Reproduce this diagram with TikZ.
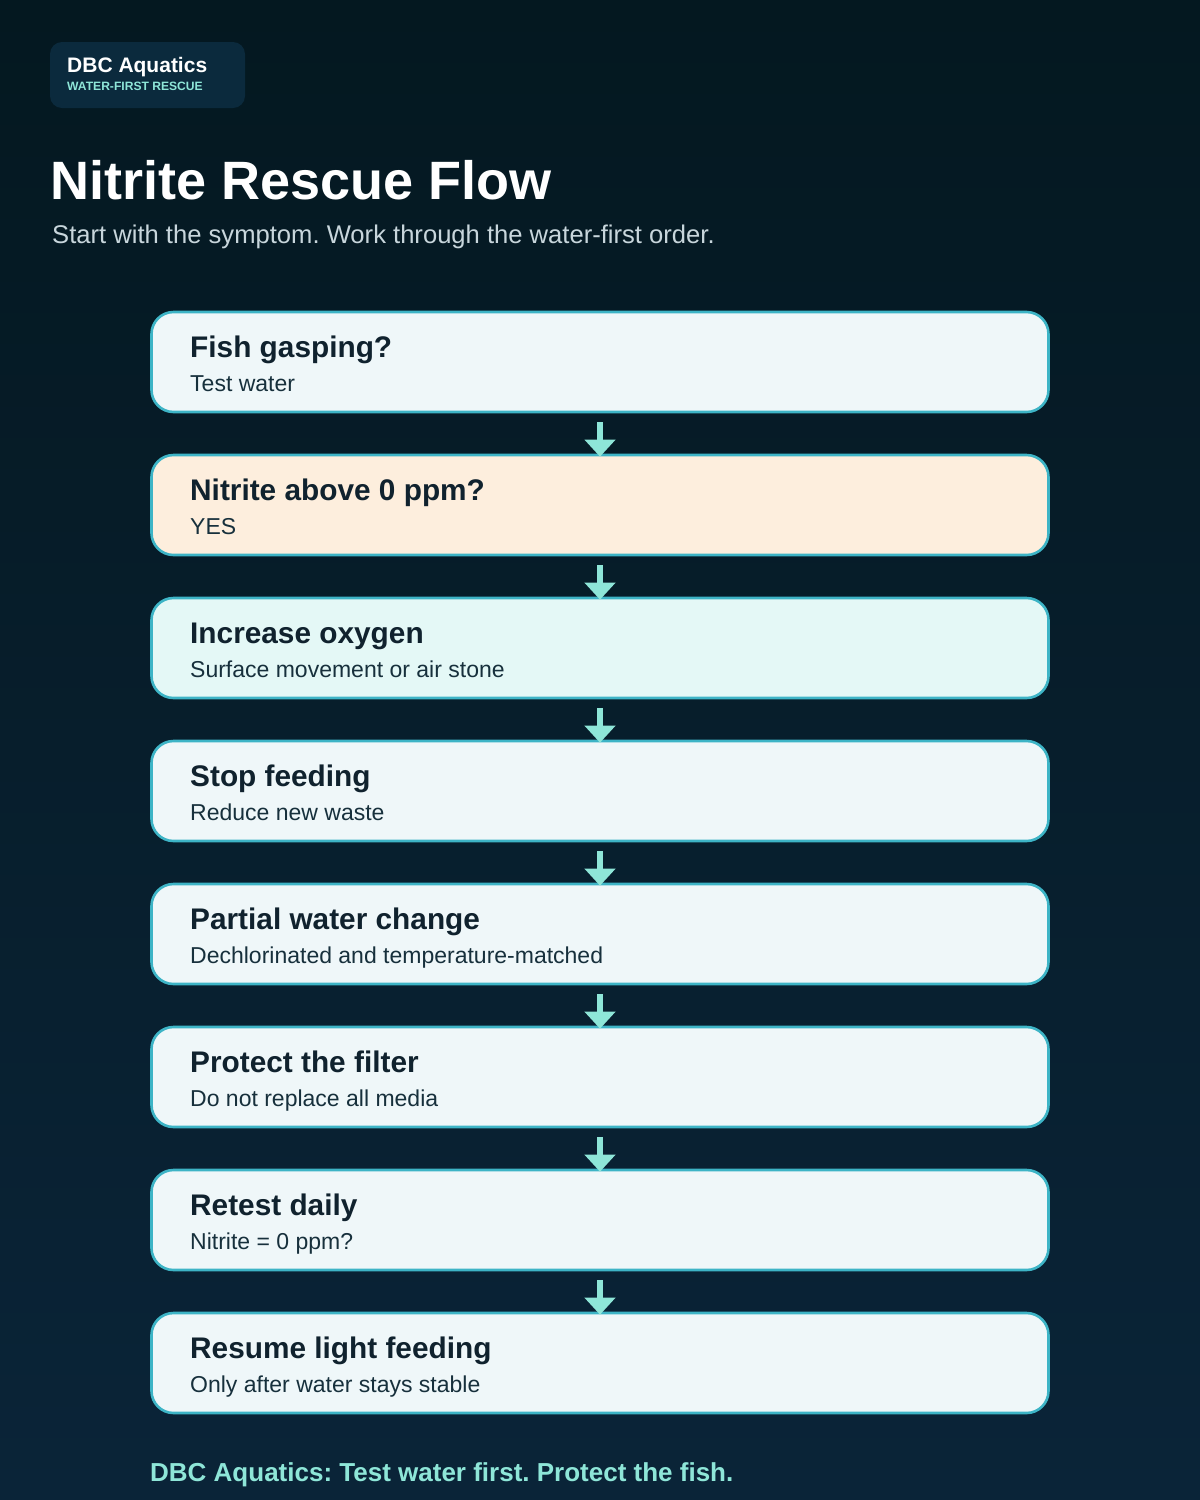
\documentclass[tikz,border=0pt]{standalone}
\usepackage{fontspec}
\setmainfont{Liberation Sans}
\usetikzlibrary{arrows.meta}
\frenchspacing
\definecolor{bgtop}{HTML}{041820}
\definecolor{bgbot}{HTML}{0A2438}
\definecolor{badgefill}{HTML}{0B2A3D}
\definecolor{mint}{HTML}{8EE6D8}
\definecolor{rim}{HTML}{3DB4C6}
\definecolor{palefill}{HTML}{EFF7F9}
\definecolor{peachfill}{HTML}{FDEEDD}
\definecolor{aquafill}{HTML}{E4F8F6}
\definecolor{inkdark}{HTML}{10222E}
\definecolor{inksub}{HTML}{17303C}
\definecolor{greytext}{HTML}{C8D6DC}
\tikzset{stepbox/.style={rounded corners=22pt,draw=rim,line width=2.6pt,
           minimum width=897pt,minimum height=100pt,inner sep=0pt,fill=palefill},
  boxtitle/.style={anchor=base west,inner sep=0pt,text=inkdark,
           font=\fontsize{29.8}{34}\selectfont\bfseries},
  boxsub/.style={anchor=base west,inner sep=0pt,text=inksub,
           font=\fontsize{23}{27}\selectfont},
  flow/.style={draw=mint,line width=6pt,shorten <=9pt,shorten >=-3pt,
           -{Triangle[width=30pt,length=17pt]}}
         }
\begin{document}
\begin{tikzpicture}[x=1pt,y=-1pt]
  \shade[top color=bgtop,bottom color=bgbot] (0,0) rectangle (1200,1500);
  \useasboundingbox (0,0) rectangle (1200,1500);
  % badge
  \node[fill=badgefill,rounded corners=12pt,minimum width=195pt,minimum height=66pt,
        inner sep=0pt] (badge) at (147.5,75) {};
  \node[anchor=base west,inner sep=0pt,text=white,
        font=\fontsize{21}{25}\selectfont\bfseries] (brand) at (67,72) {DBC Aquatics};
  \node[anchor=base west,inner sep=0pt,text=mint,
        font=\fontsize{12.1}{14}\selectfont\bfseries] (tag) at (67,90) {WATER-FIRST RESCUE};
  % heading
  \node[anchor=base west,inner sep=0pt,text=white,
        font=\fontsize{54}{60}\selectfont\bfseries] (title) at (50,199) {Nitrite Rescue Flow};
  \node[anchor=base west,inner sep=0pt,text=greytext,
        font=\fontsize{25.6}{30}\selectfont] (subtitle) at (52,243)
        {Start with the symptom. Work through the water-first order.};

  \node[stepbox] (s1) at (600,362) {};
  \node[boxtitle] at (190,357) {Fish gasping?};
  \node[boxsub] at (190,391) {Test water};

  \node[stepbox,fill=peachfill] (s2) at (600,505) {};
  \node[boxtitle] at (190,500) {Nitrite above 0 ppm?};
  \node[boxsub] at (190,534) {YES};

  \node[stepbox,fill=aquafill] (s3) at (600,648) {};
  \node[boxtitle] at (190,643) {Increase oxygen};
  \node[boxsub] at (190,677) {Surface movement or air stone};

  \node[stepbox] (s4) at (600,791) {};
  \node[boxtitle] at (190,786) {Stop feeding};
  \node[boxsub] at (190,820) {Reduce new waste};

  \node[stepbox] (s5) at (600,934) {};
  \node[boxtitle] at (190,929) {Partial water change};
  \node[boxsub] at (190,963) {Dechlorinated and temperature-matched};

  \node[stepbox] (s6) at (600,1077) {};
  \node[boxtitle] at (190,1072) {Protect the filter};
  \node[boxsub] at (190,1106) {Do not replace all media};

  \node[stepbox] (s7) at (600,1220) {};
  \node[boxtitle] at (190,1215) {Retest daily};
  \node[boxsub] at (190,1249) {Nitrite = 0 ppm?};

  \node[stepbox] (s8) at (600,1363) {};
  \node[boxtitle] at (190,1358) {Resume light feeding};
  \node[boxsub] at (190,1392) {Only after water stays stable};

  \draw[flow] (s1.south) -- (s2.north);
  \draw[flow] (s2.south) -- (s3.north);
  \draw[flow] (s3.south) -- (s4.north);
  \draw[flow] (s4.south) -- (s5.north);
  \draw[flow] (s5.south) -- (s6.north);
  \draw[flow] (s6.south) -- (s7.north);
  \draw[flow] (s7.south) -- (s8.north);

  \node[anchor=base west,inner sep=0pt,text=mint,
        font=\fontsize{26}{30}\selectfont\bfseries] (footer) at (150,1481)
        {DBC Aquatics: Test water first. Protect the fish.};
\end{tikzpicture}
\end{document}
